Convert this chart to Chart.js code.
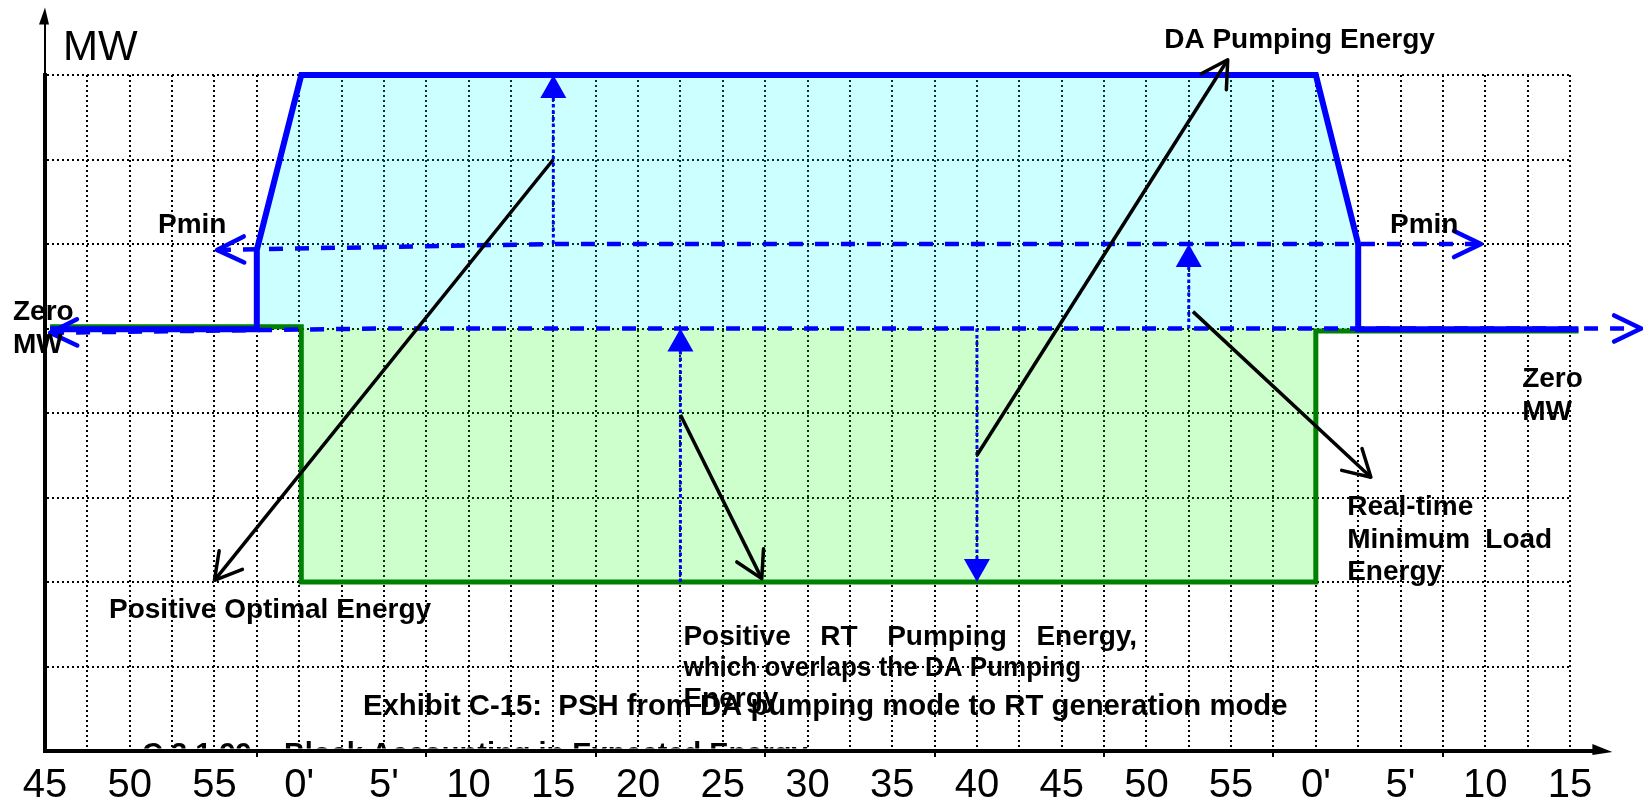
<!DOCTYPE html>
<html><head><meta charset="utf-8">
<script src="https://cdn.jsdelivr.net/npm/chart.js@4.4.1/dist/chart.umd.min.js"></script>
<style>html,body{margin:0;padding:0;background:#fff;}#wrap{width:1643px;height:809px;position:relative;}</style>
</head><body><div id="wrap"><canvas id="c"></canvas></div>
<script>
// ---------------- data ----------------
const tickLabels = ["45","50","55","0'","5'","10","15","20","25","30","35","40","45","50","55","0'","5'","10","15"];
// DA pumping energy (cyan area + blue outline)
const daFillX = [5, 5, 6.05, 30, 31, 31];
const daFillY = [5, 5.93, 8, 8, 6, 5];
const daLineX = [0.12, 5, 5, 6.05, 30, 31, 31, 36.2];
const daLineY = [4.99, 4.99, 5.93, 8, 8, 6, 4.99, 4.99];
// RT pumping energy (green area + green outline)
const rtFillX = [6.05, 6.05, 30, 30];
const rtFillY = [5, 2, 2, 5];
const rtLineX = [0.12, 6.05, 6.05, 30, 30, 36.2];
const rtLineY = [5.02, 5.02, 2, 2, 4.97, 4.97];
// dashed reference lines
const pminX = [4.06, 12, 33.9];
const pminY = [5.93, 6, 6];
const zeroX = [0.12, 8, 37.68];
const zeroY = [4.95, 5, 5];
// dotted blue arrows (from -> to)
const dotArrowX = [[12, 12], [15, 15], [22, 22], [27, 27]];
const dotArrowY = [[6, 8], [2, 5], [5, 2], [5, 6]];
// black annotation arrows (from -> to)
const blackArrowX = [[12, 4.0], [22, 27.92], [15, 16.92], [27.1, 31.3]];
const blackArrowY = [[7, 2.02], [3.5, 8.18], [3.98, 2.04], [5.2, 3.24]];
// axis arrow ends
const axisEnd = {x: 37.0, y: 8.8};

// ---------------- helpers ----------------
const zip = (xs, ys) => xs.map((x, i) => ({x, y: ys[i]}));
const BLUE = '#0000FF', GREEN = '#008000';
const FONT = "'Liberation Sans', Arial, sans-serif";

const notes = [
  {t:'MW', x:0.425, y:8.183, size:42, bold:false},
  {t:'DA Pumping Energy', x:26.42, y:8.325},
  {t:'Pmin', x:2.667, y:6.134},
  {t:'Pmin', x:31.75, y:6.134},
  {t:'Zero', x:-0.755, y:5.104},
  {t:'MW', x:-0.755, y:4.713},
  {t:'Zero', x:34.87, y:4.311},
  {t:'MW', x:34.87, y:3.92},
  {t:'Positive Optimal Energy', x:1.511, y:1.575},
  {t:'Real-time', x:30.74, y:2.795},
  {t:'Minimum', x:30.74, y:2.404},
  {t:'Load', x:35.58, y:2.404, align:'right'},
  {t:'Energy', x:30.74, y:2.025},
  {t:'Positive RT Pumping Energy,', x:15.07, y:1.255, justifyTo:25.78},
  {t:'which overlaps the DA Pumping', x:15.07, y:0.889, fitTo:24.46},
  {t:'Energy', x:15.07, y:0.52},
  {t:'Exhibit C-15:  PSH from DA pumping mode to RT generation mode', x:7.507, y:0.426, size:29.3},
  {t:'C.3.1.99 \u2013 Block Accounting in Expected Energy', x:2.29, y:-0.142, clipAt:0.03, size:29}
];

function drawHead(ctx, x, y, ang, h, color, width) {
  ctx.save();
  ctx.setLineDash([]);
  ctx.strokeStyle = color; ctx.fillStyle = color; ctx.lineWidth = width;
  if (h.type === 'open') {
    const a1 = ang + Math.PI - h.spread, a2 = ang + Math.PI + h.spread;
    ctx.lineCap = 'round'; ctx.lineJoin = 'round';
    ctx.beginPath();
    ctx.moveTo(x + h.len * Math.cos(a1), y + h.len * Math.sin(a1));
    ctx.lineTo(x, y);
    ctx.lineTo(x + h.len * Math.cos(a2), y + h.len * Math.sin(a2));
    ctx.stroke();
  } else {
    const bx = x - h.len * Math.cos(ang), by = y - h.len * Math.sin(ang);
    const px = -Math.sin(ang), py = Math.cos(ang);
    ctx.beginPath();
    ctx.moveTo(x, y);
    ctx.lineTo(bx + px * h.half, by + py * h.half);
    ctx.lineTo(bx - px * h.half, by - py * h.half);
    ctx.closePath(); ctx.fill();
  }
  ctx.restore();
}

const headsPlugin = {
  id: 'heads',
  afterDatasetsDraw(chart) {
    const ctx = chart.ctx;
    chart.data.datasets.forEach((ds, i) => {
      if (!ds.heads) return;
      const pts = chart.getDatasetMeta(i).data;
      ds.heads.forEach(h => {
        const e = h.at === 'start' ? 0 : pts.length - 1;
        const p = h.at === 'start' ? 1 : pts.length - 2;
        const ang = Math.atan2(pts[e].y - pts[p].y, pts[e].x - pts[p].x);
        drawHead(ctx, pts[e].x, pts[e].y, ang, h, ds.borderColor, h.width || ds.borderWidth);
      });
    });
  }
};

const decoPlugin = {
  id: 'deco',
  afterDraw(chart) {
    const ctx = chart.ctx, xs = chart.scales.x, ys = chart.scales.y, ca = chart.chartArea;
    ctx.save();
    // y axis extension + arrow
    const yTip = ys.getPixelForValue(axisEnd.y);
    ctx.strokeStyle = '#000'; ctx.fillStyle = '#000';
    ctx.lineWidth = 2;
    ctx.beginPath(); ctx.moveTo(ca.left, ca.top); ctx.lineTo(ca.left, yTip + 14); ctx.stroke();
    ctx.beginPath(); ctx.moveTo(ca.left, yTip); ctx.lineTo(ca.left - 6, yTip + 17); ctx.lineTo(ca.left + 4, yTip + 17); ctx.closePath(); ctx.fill();
    // x axis extension + arrow
    const xTip = xs.getPixelForValue(axisEnd.x);
    ctx.lineWidth = 4;
    ctx.beginPath(); ctx.moveTo(ca.right - 2, ca.bottom); ctx.lineTo(xTip - 16, ca.bottom); ctx.stroke();
    ctx.beginPath(); ctx.moveTo(xTip, ca.bottom + 1); ctx.lineTo(xTip - 20, ca.bottom - 7); ctx.lineTo(xTip - 20, ca.bottom + 4); ctx.closePath(); ctx.fill();
    // annotation text
    ctx.fillStyle = '#000';
    ctx.textBaseline = 'alphabetic';
    notes.forEach(n => {
      ctx.save();
      ctx.font = (n.bold === false ? '' : 'bold ') + (n.size || 28) + 'px ' + FONT;
      const px = xs.getPixelForValue(n.x), py = ys.getPixelForValue(n.y);
      if (n.clipAt !== undefined) {
        ctx.beginPath(); ctx.rect(0, 0, chart.width, ys.getPixelForValue(n.clipAt)); ctx.clip();
      }
      if (n.justifyTo !== undefined) {
        const words = n.t.split(' ');
        const right = xs.getPixelForValue(n.justifyTo);
        const total = words.reduce((s, w) => s + ctx.measureText(w).width, 0);
        const gap = (right - px - total) / (words.length - 1);
        let cx = px;
        words.forEach(w => { ctx.fillText(w, cx, py); cx += ctx.measureText(w).width + gap; });
      } else if (n.fitTo !== undefined) {
        const w = ctx.measureText(n.t).width;
        const target = xs.getPixelForValue(n.fitTo) - px;
        ctx.translate(px, py); ctx.scale(target / w, 1);
        ctx.fillText(n.t, 0, 0);
      } else {
        ctx.textAlign = n.align || 'left';
        ctx.fillText(n.t, px, py);
      }
      ctx.restore();
    });
    ctx.restore();
  }
};

const openHead = {type:'open', len:30, spread:0.52};
const blueOpen = {type:'open', len:30, spread:0.45};
const filledHead = {type:'filled', len:23, half:13};

const datasets = [
  {data: zip(daFillX, daFillY), borderWidth: 0, borderColor: 'rgba(0,0,0,0)', backgroundColor: 'rgba(0,255,255,0.2)', fill: {value: 5}, order: 20},
  {data: zip(rtFillX, rtFillY), borderWidth: 0, borderColor: 'rgba(0,0,0,0)', backgroundColor: 'rgba(0,255,0,0.2)', fill: {value: 5}, order: 19},
  {data: zip(rtLineX, rtLineY), borderColor: GREEN, borderWidth: 5, fill: false, order: 10},
  {data: zip(zeroX, zeroY), borderColor: BLUE, borderWidth: 4.5, borderDash: [14, 12], fill: false, order: 9,
   heads: [{...blueOpen, at:'start'}, {...blueOpen, at:'end'}]},
  {data: zip(pminX, pminY), borderColor: BLUE, borderWidth: 4.5, borderDash: [14, 12], fill: false, order: 8,
   heads: [{...blueOpen, at:'start'}, {...blueOpen, at:'end'}]},
  {data: zip(daLineX, daLineY), borderColor: BLUE, borderWidth: 6, fill: false, order: 7},
];
dotArrowX.forEach((xs, i) => datasets.push({
  data: zip(xs, dotArrowY[i]), borderColor: BLUE, borderWidth: 3, borderDash: [3.5, 3], fill: false, order: 5,
  heads: [{...filledHead, at:'end'}]
}));
blackArrowX.forEach((xs, i) => datasets.push({
  data: zip(xs, blackArrowY[i]), borderColor: '#000', borderWidth: 3.5, fill: false, order: 1,
  heads: [{...openHead, at:'end'}]
}));
datasets.forEach(d => { d.pointRadius = 0; d.tension = 0; d.clip = false; d.borderJoinStyle = 'miter'; d.borderCapStyle = 'butt'; });

new Chart(document.getElementById('c'), {
  type: 'line',
  data: {datasets},
  options: {
    responsive: true, maintainAspectRatio: false, animation: false, devicePixelRatio: 1,
    layout: {padding: {top: 75, right: 73, left: 0, bottom: 0}},
    plugins: {legend: {display: false}, tooltip: {enabled: false}, title: {display: false}},
    events: [],
    scales: {
      x: {
        type: 'linear', min: 0, max: 36,
        afterFit(s) { s.height = 58; },
        border: {display: true, color: '#000', width: 4, dash: [2, 3]},
        grid: {
          color: '#000', lineWidth: 2, drawTicks: true, tickLength: 6, tickWidth: 2,
          tickColor: (c) => { const v = c.tick ? c.tick.value : -1; return (v >= 5 && (v - 5) % 4 === 0) ? '#000' : 'rgba(0,0,0,0)'; }
        },
        ticks: {
          stepSize: 1, autoSkip: false, maxRotation: 0, minRotation: 0, padding: 5, color: '#000',
          font: {family: FONT, size: 40},
          callback: (v) => (v % 2 === 0 ? tickLabels[v / 2] : '')
        }
      },
      y: {
        type: 'linear', min: 0, max: 8,
        afterFit(s) { s.width = 45; },
        border: {display: true, color: '#000', width: 4, dash: [2, 3]},
        grid: {color: '#000', lineWidth: 2, drawTicks: false},
        ticks: {display: false, stepSize: 1}
      }
    }
  },
  plugins: [headsPlugin, decoPlugin]
});
</script></body></html>
